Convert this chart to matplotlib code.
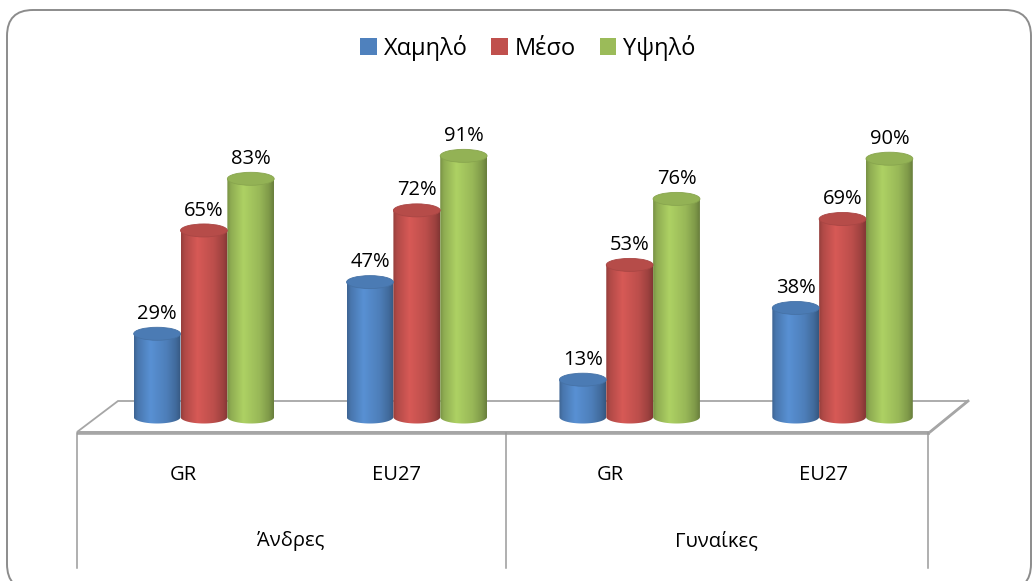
import numpy as np
import matplotlib
matplotlib.use("Agg")
import matplotlib.pyplot as plt
from matplotlib.patches import Ellipse, PathPatch, Polygon, FancyBboxPatch, Patch
from matplotlib.path import Path

plt.rcParams['font.family'] = ['Open Sans', 'DejaVu Sans']

# Δεδομένα
series = ["Χαμηλό", "Μέσο", "Υψηλό"]
categories = ["GR", "EU27", "GR", "EU27"]
groups = ["Άνδρες", "Γυναίκες"]
low = [29, 47, 13, 38]
mid = [65, 72, 53, 69]
high = [83, 91, 76, 90]
values = [low, mid, high]
colors = ["#4F81BD", "#C0504D", "#9BBB59"]

W, H = 1034, 581
fig = plt.figure(figsize=(W / 100, H / 100), dpi=100)

# διακοσμητικοί άξονες σε pixel
deco = fig.add_axes([0, 0, 1, 1], zorder=0)
deco.set_xlim(0, W)
deco.set_ylim(H, 0)
deco.axis("off")

border = FancyBboxPatch((7, 10), 1024, 580, boxstyle="round,pad=0,rounding_size=26",
                        fc="white", ec="#8c8c8c", lw=1.4, clip_on=False)
deco.add_patch(border)

# δάπεδο
floor = Polygon([(77, 432), (930, 432), (968, 401), (118, 401)], closed=True,
                fc="white", ec="#a6a6a6", lw=1.3)
deco.add_patch(floor)
deco.plot([77, 930], [432.5, 432.5], color="#a6a6a6", lw=2.6, solid_capstyle="butt")
deco.plot([930, 968], [432, 401], color="#a6a6a6", lw=2.0)
for xv in [77, 506, 928]:
    deco.plot([xv, xv], [433, 568], color="#9a9a9a", lw=1.1)

# ετικέτες κατηγοριών
col_w = (930 - 77) / len(categories)
for i, c in enumerate(categories):
    deco.text(77 + col_w * (i + 0.5), 475, c, ha="center", va="center", fontsize=14.5)
for j, g in enumerate(groups):
    deco.text(77 + col_w * (2 * j + 1), 541, g, ha="center", va="center", fontsize=14.5)

# άξονες ράβδων
x0, x1 = 97.5, 949
y_base, px_per = 417, 2.87
ymin = -10
ax = fig.add_axes([x0 / W, (H - y_base + ymin * px_per) / H, (x1 - x0) / W,
                   (100 - ymin) * px_per / H], zorder=1)
ax.patch.set_alpha(0)
ax.axis("off")

bw = 0.22
eh = 13 / px_per  # ύψος ελλείψεων σε μονάδες %

prof_t = [0, 0.08, 0.35, 0.7, 0.9, 1]
prof_f = [0.78, 0.92, 1.12, 0.98, 0.82, 0.68]
tt = np.linspace(0, 1, 80)
fac = np.interp(tt, prof_t, prof_f)


def cylinder(xc, v, color):
    rgb = np.array(matplotlib.colors.to_rgb(color))
    grad = np.clip(rgb[None, :] * fac[:, None], 0, 1)[None, :, :]
    th = np.linspace(np.pi, 2 * np.pi, 60)
    bx = xc + bw / 2 * np.cos(th)
    by = eh / 2 * np.sin(th)
    verts = [(xc - bw / 2, v)] + list(zip(bx, by)) + [(xc + bw / 2, v), (xc - bw / 2, v)]
    codes = [Path.MOVETO] + [Path.LINETO] * (len(verts) - 2) + [Path.CLOSEPOLY]
    clip = PathPatch(Path(verts, codes), fc="none", ec="none", transform=ax.transData)
    ax.add_patch(clip)
    im = ax.imshow(grad, extent=(xc - bw / 2, xc + bw / 2, -eh, v), aspect="auto",
                   interpolation="bilinear", zorder=2)
    im.set_clip_path(clip)
    lid = Ellipse((xc, v), bw, eh, fc=np.clip(rgb * 0.95, 0, 1), ec=np.clip(rgb * 0.88, 0, 1),
                  lw=0.6, zorder=3)
    ax.add_patch(lid)
    ax.text(xc, v + eh / 2 + 1.2, f"{v}%", ha="center", va="bottom", fontsize=14.5, zorder=4)


for s in range(len(series)):
    for i, v in enumerate(values[s]):
        cylinder(i + 0.5 + (s - 1) * bw, v, colors[s])

ax.set_xlim(0, len(categories))
ax.set_ylim(ymin, 100)

handles = [Patch(fc=c, ec="none") for c in colors]
fig.legend(handles, series, loc="center", bbox_to_anchor=(528 / W, 1 - 48 / H), ncol=3,
           frameon=False, fontsize=17, handlelength=0.7, handleheight=0.7,
           handletextpad=0.3, columnspacing=1.0)

fig.savefig("out.png", dpi=100)
